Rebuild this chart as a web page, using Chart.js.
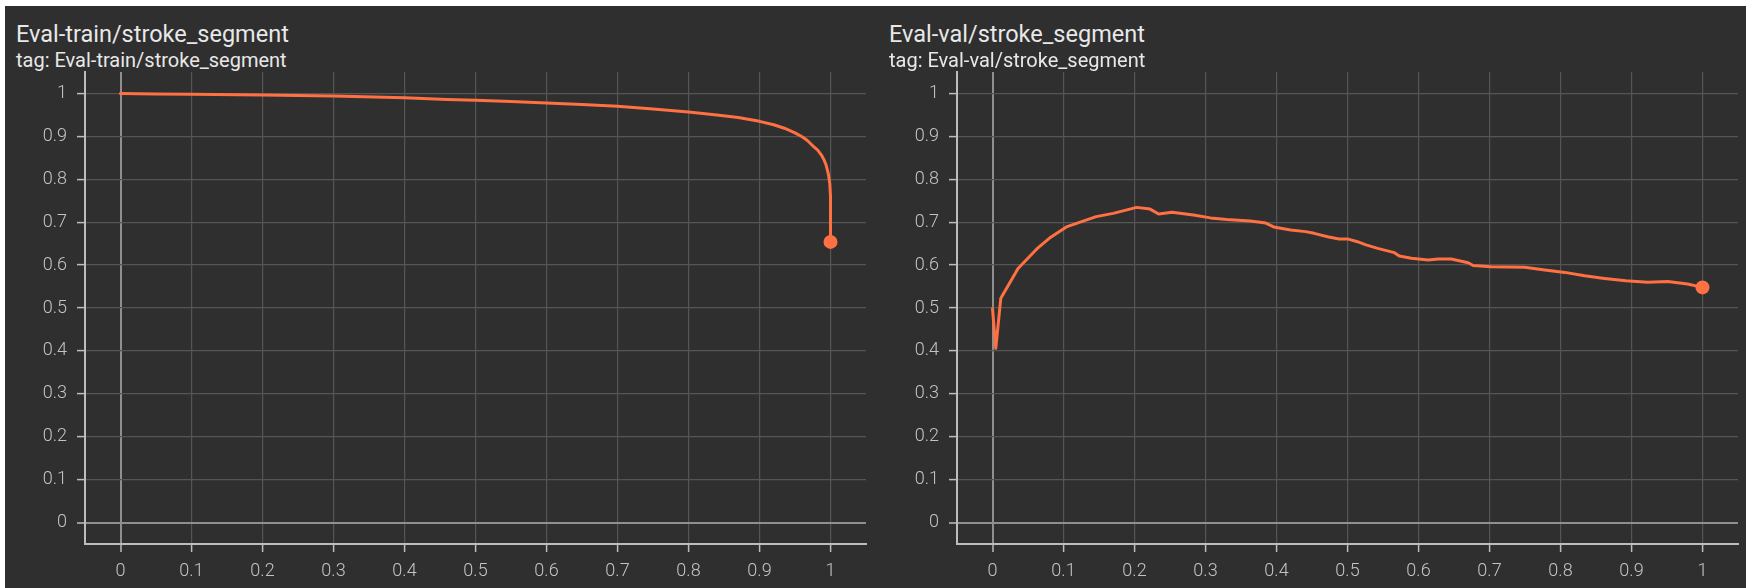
<!DOCTYPE html>
<html>
<head>
<meta charset="utf-8">
<script src="https://cdn.jsdelivr.net/npm/chart.js@4.4.0/dist/chart.umd.min.js"></script>
<style>
  html, body { margin: 0; padding: 0; background: #fff; width: 1746px; height: 588px; overflow: hidden; }
  #fondo { position: absolute; left: 5px; top: 6px; width: 1741px; height: 582px; background: #2f2f2f; }
  canvas { position: absolute; top: 0; }
  .titulo { position: absolute; font-family: Roboto, "Noto Sans", sans-serif; color: #e8e8e8; white-space: nowrap; }
  .titulo.grande { font-size: 23.5px; line-height: 23.5px; top: 23px; }
  .titulo.tag { font-size: 20px; line-height: 20px; top: 50px; }
</style>
</head>
<body>
<div id="fondo"></div>

<div class="titulo grande" style="left:16px">Eval-train/stroke_segment</div>
<div class="titulo tag" style="left:16px">tag: Eval-train/stroke_segment</div>
<canvas id="chartTrain" width="873" height="588" style="left:0px"></canvas>

<div class="titulo grande" style="left:889px">Eval-val/stroke_segment</div>
<div class="titulo tag" style="left:889px">tag: Eval-val/stroke_segment</div>
<canvas id="chartVal" width="873" height="588" style="left:872px"></canvas>

<script>
// Curva de entrenamiento (x, y)
const trainX = [0, 0.05, 0.1, 0.2, 0.3, 0.4, 0.46, 0.5, 0.55, 0.6, 0.65, 0.7, 0.75, 0.8, 0.84, 0.87,
  0.9, 0.92, 0.935, 0.95, 0.96, 0.967, 0.975, 0.982, 0.987, 0.991, 0.994, 0.997, 0.999, 1.0, 1.0, 1.0];
const trainY = [1.0, 0.999, 0.998, 0.9965, 0.994, 0.99, 0.986, 0.984, 0.981, 0.978, 0.974, 0.97, 0.964, 0.957, 0.95, 0.944,
  0.935, 0.927, 0.919, 0.908, 0.899, 0.891, 0.878, 0.868, 0.857, 0.845, 0.832, 0.812, 0.79, 0.76, 0.72, 0.654];

// Curva de validación (x, y)
const valX = [0, 0.0046, 0.0117, 0.036, 0.062, 0.082, 0.104, 0.146, 0.17, 0.203, 0.222, 0.234, 0.253, 0.283,
  0.307, 0.33, 0.363, 0.385, 0.396, 0.42, 0.441, 0.453, 0.472, 0.488, 0.5, 0.514, 0.526, 0.5425, 0.566,
  0.573, 0.59, 0.6135, 0.628, 0.646, 0.67, 0.677, 0.7025, 0.7495, 0.778, 0.806, 0.834, 0.862, 0.892,
  0.923, 0.951, 0.979, 1.0];
const valY = [0.499, 0.406, 0.523, 0.592, 0.637, 0.665, 0.689, 0.713, 0.7205, 0.7345, 0.7305, 0.719, 0.723, 0.7166,
  0.71, 0.7065, 0.703, 0.698, 0.689, 0.682, 0.678, 0.674, 0.666, 0.661, 0.661, 0.6545, 0.647, 0.639, 0.629,
  0.621, 0.616, 0.612, 0.614, 0.614, 0.6055, 0.599, 0.596, 0.595, 0.5885, 0.583, 0.575, 0.569, 0.5635,
  0.56, 0.562, 0.556, 0.548];

// Marcas de los ejes
const xTicks = [0, 0.1, 0.2, 0.3, 0.4, 0.5, 0.6, 0.7, 0.8, 0.9, 1];
const yTicks = [0, 0.1, 0.2, 0.3, 0.4, 0.5, 0.6, 0.7, 0.8, 0.9, 1];

const NARANJA = '#ff7043';
const fuenteTicks = { family: 'Roboto', size: 18, weight: 300 };

function formatoTick(v) {
  return String(+Number(v).toFixed(1));
}

function ejeComun(ticks) {
  return {
    type: 'linear',
    min: -0.05,
    max: 1.05,
    afterBuildTicks: (axis) => {
      axis.ticks = ticks.map((v) => ({ value: v }));
    },
    grid: {
      color: (ctx) => (ctx.tick && ctx.tick.value === 0 ? '#8f8f8f' : '#555555'),
      lineWidth: (ctx) => (ctx.tick && ctx.tick.value === 0 ? 2 : 1.2),
      tickColor: '#bdbdbd',
      tickWidth: 1.5,
      tickLength: 8,
    },
    border: { display: true, color: '#bdbdbd', width: 2 },
    ticks: {
      color: '#c4c4c4',
      font: fuenteTicks,
      autoSkip: false,
      maxRotation: 0,
      callback: formatoTick,
    },
  };
}

function crearGrafica(id, xs, ys) {
  const puntos = xs.map((x, i) => ({ x: x, y: ys[i] }));
  const ultimo = puntos.length - 1;

  const ejeX = ejeComun(xTicks);
  ejeX.position = 'bottom';
  ejeX.ticks.padding = 9;
  ejeX.afterFit = (axis) => { axis.height = 44; };

  const ejeY = ejeComun(yTicks);
  ejeY.position = 'left';
  ejeY.ticks.padding = 10;
  ejeY.afterFit = (axis) => { axis.width = 85; };

  new Chart(document.getElementById(id), {
    type: 'line',
    data: {
      datasets: [{
        data: puntos,
        borderColor: NARANJA,
        backgroundColor: NARANJA,
        borderWidth: 3,
        borderJoinStyle: 'round',
        borderCapStyle: 'round',
        tension: 0,
        pointRadius: (ctx) => (ctx.dataIndex === ultimo ? 7 : 0),
        pointHoverRadius: (ctx) => (ctx.dataIndex === ultimo ? 7 : 0),
        pointBackgroundColor: NARANJA,
        pointBorderWidth: 0,
        clip: 10,
      }],
    },
    options: {
      responsive: false,
      animation: false,
      layout: { padding: { top: 72, right: 6, left: 0, bottom: 0 } },
      plugins: {
        legend: { display: false },
        tooltip: { enabled: false },
      },
      scales: { x: ejeX, y: ejeY },
    },
  });
}

crearGrafica('chartTrain', trainX, trainY);
crearGrafica('chartVal', valX, valY);
</script>
</body>
</html>
